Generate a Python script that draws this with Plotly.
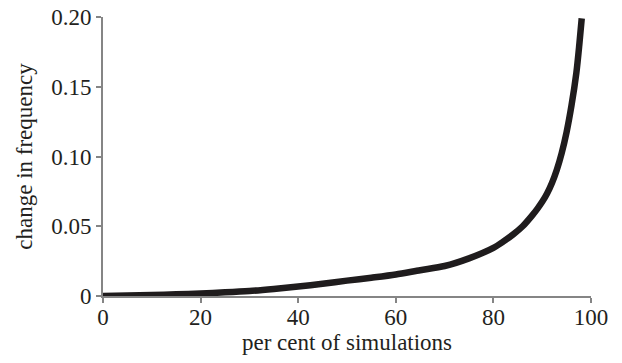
import plotly.graph_objects as go

# data
pct_simulations = [0, 5, 10, 15, 20, 25, 30, 35, 40, 45, 50, 55, 60, 65, 70, 75, 80,
                   82, 84, 86, 88, 89, 90, 91, 92, 93, 94, 95, 96, 97, 97.6, 98.1]
freq_change = [0.0, 0.0003, 0.0007, 0.0012, 0.0018, 0.0026, 0.0036, 0.0051, 0.0068, 0.0088,
               0.0110, 0.0131, 0.0154, 0.0185, 0.0215, 0.0270, 0.0345,
               0.0390, 0.0440, 0.0500, 0.0580, 0.0625, 0.0675, 0.0735, 0.0810, 0.0905,
               0.1025, 0.1175, 0.1365, 0.1600, 0.1800, 0.1990]

x_ticks = [0, 20, 40, 60, 80, 100]
y_ticks = [0, 0.05, 0.10, 0.15, 0.20]
y_tick_labels = ["0", "0.05", "0.10", "0.15", "0.20"]

FONT = "Liberation Serif"
TXT = "#231f20"
AX = "#858585"
FS = 23

fig = go.Figure(go.Scatter(
    x=pct_simulations, y=freq_change, mode="lines",
    line=dict(color="#1f1c1d", width=6.5, shape="spline", smoothing=0.8),
    cliponaxis=False, hoverinfo="skip",
))

fig.update_layout(
    width=622, height=363,
    margin=dict(l=103, r=31, t=17, b=67, autoexpand=False),
    paper_bgcolor="white", plot_bgcolor="white",
    showlegend=False,
    font=dict(family=FONT, color=TXT, size=FS),
    xaxis=dict(
        range=[0, 100], tickvals=x_ticks, showgrid=False, zeroline=False,
        showline=True, linecolor=AX, linewidth=2, automargin=False,
        ticks="outside", ticklen=5, tickwidth=2, tickcolor=AX,
        ticklabelstandoff=-6,
        tickfont=dict(family=FONT, size=FS, color=TXT),
        title=dict(text="per cent of simulations", font=dict(family=FONT, size=FS, color=TXT), standoff=0),
    ),
    yaxis=dict(
        range=[0, 0.2], tickvals=y_ticks, ticktext=y_tick_labels, showgrid=False, zeroline=False,
        showline=True, linecolor=AX, linewidth=2, automargin=False,
        ticks="outside", ticklen=5, tickwidth=2, tickcolor=AX,
        tickfont=dict(family=FONT, size=FS, color=TXT),
        title=dict(text="change in frequency", font=dict(family=FONT, size=FS, color=TXT), standoff=12),
    ),
)

fig.write_html("out.html", config={"displayModeBar": False},
               post_script="document.body.style.margin='0px';")
